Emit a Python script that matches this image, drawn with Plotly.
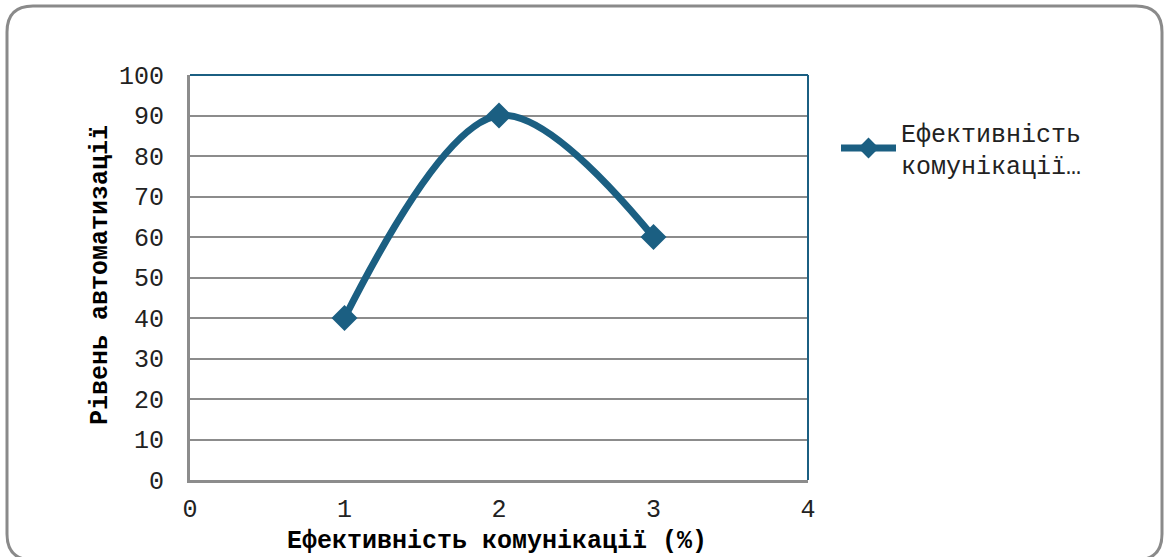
import plotly.graph_objects as go

# Series data
x_vals = [1, 2, 3]
y_vals = [40, 90, 60]
series_name = "Ефективність<br>комунікації…"
x_title = "Ефективність комунікації (%)"
y_title = "Рівень автоматизації"
x_ticks = [0, 1, 2, 3, 4]
y_ticks = [0, 10, 20, 30, 40, 50, 60, 70, 80, 90, 100]

W, H = 1168, 557
ML, MR, MT, MB = 190, 360, 75, 77
PW, PH = W - ML - MR, H - MT - MB

LINE_COLOR = "#1b5f82"
GRID_COLOR = "#8c8c8c"
FONT = "Courier New, Nimbus Mono PS, FreeMono, Courier, Liberation Mono, monospace"


def px_x(px):
    return (px - ML) / PW


def px_y(py):
    return (H - MB - py) / PH


fig = go.Figure()
fig.add_trace(go.Scatter(
    x=x_vals, y=y_vals, name=series_name, mode="lines+markers",
    line=dict(color=LINE_COLOR, width=7, shape="spline", smoothing=1),
    marker=dict(symbol="diamond", size=20, color=LINE_COLOR),
    showlegend=True,
))

# rounded outer frame
L, R, T, B, r = 7, 1162, 6, 560, 26
path = (
    f"M {px_x(L)} {px_y(T + r)} "
    f"Q {px_x(L)} {px_y(T)} {px_x(L + r)} {px_y(T)} "
    f"L {px_x(R - r)} {px_y(T)} "
    f"Q {px_x(R)} {px_y(T)} {px_x(R)} {px_y(T + r)} "
    f"L {px_x(R)} {px_y(B - r)} "
    f"Q {px_x(R)} {px_y(B)} {px_x(R - r)} {px_y(B)} "
    f"L {px_x(L + r)} {px_y(B)} "
    f"Q {px_x(L)} {px_y(B)} {px_x(L)} {px_y(B - r)} Z"
)
shapes = [
    dict(type="path", xref="paper", yref="paper", path=path,
         line=dict(color="#8a8a8a", width=3), layer="below"),
    # top and right plot-area border
    dict(type="line", xref="x domain", yref="y domain", x0=0, x1=1, y0=1, y1=1,
         line=dict(color=LINE_COLOR, width=2), layer="above"),
    dict(type="line", xref="x domain", yref="y domain", x0=1, x1=1, y0=0, y1=1,
         line=dict(color=LINE_COLOR, width=2), layer="above"),
]

annotations = [
    dict(text=f"<b>{x_title}</b>", xref="paper", yref="paper",
         x=px_x(497), y=px_y(541), xanchor="center", yanchor="middle",
         showarrow=False, font=dict(family=FONT, size=25, color="#000")),
    dict(text=f"<b>{y_title}</b>", xref="paper", yref="paper",
         x=px_x(100), y=px_y(275), xanchor="center", yanchor="middle",
         showarrow=False, textangle=-90,
         font=dict(family=FONT, size=25, color="#000")),
]

fig.update_layout(
    width=W, height=H,
    margin=dict(l=ML, r=MR, t=MT, b=MB, autoexpand=False),
    paper_bgcolor="white", plot_bgcolor="white",
    font=dict(family=FONT, size=25, color="#222"),
    shapes=shapes, annotations=annotations,
    legend=dict(x=px_x(836), y=px_y(109), xanchor="left", yanchor="top",
                font=dict(family=FONT, size=25, color="#222"),
                bgcolor="rgba(0,0,0,0)", itemwidth=55, tracegroupgap=0),
    xaxis=dict(range=[0, 4], tickvals=x_ticks, showgrid=False, zeroline=False,
               showline=True, linecolor=GRID_COLOR, linewidth=3,
               ticks="", ticklabelstandoff=4, fixedrange=True),
    yaxis=dict(range=[0, 100], tickvals=y_ticks, showgrid=True,
               gridcolor=GRID_COLOR, gridwidth=2, zeroline=False,
               showline=True, linecolor=GRID_COLOR, linewidth=3,
               ticks="", ticklabelstandoff=18, fixedrange=True),
)

fig.write_html("out.html")
